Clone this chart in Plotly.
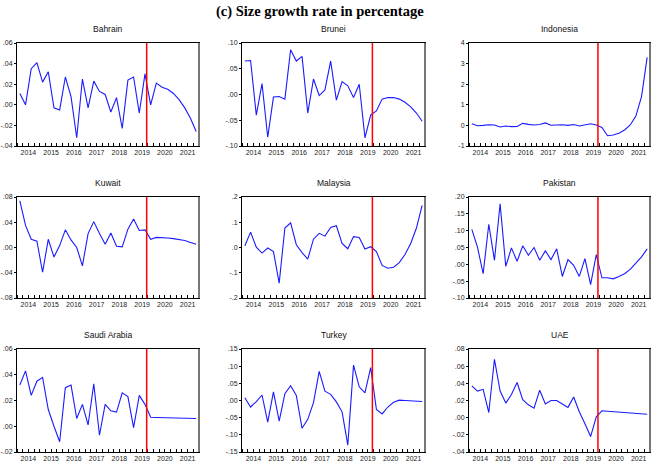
import plotly.graph_objects as go
from plotly.subplots import make_subplots

# ---------------- data ----------------
years = [2014, 2015, 2016, 2017, 2018, 2019, 2020, 2021]
quarter_labels = [f"{y}Q{q}" for y in years for q in (1, 2, 3, 4)]
forecast_start = 2019.7  # vertical red marker

countries = ["Bahrain", "Brunei", "Indonesia",
             "Kuwait", "Malaysia", "Pakistan",
             "Saudi Arabia", "Turkey", "UAE"]

bahrain = [0.011, 0.000, 0.035, 0.041, 0.022, 0.032, -0.003, -0.005,
           0.027, 0.008, -0.032, 0.025, -0.003, 0.023, 0.013, 0.010,
           -0.007, 0.007, -0.023, 0.024, 0.027, -0.008, 0.030, 0.000,
           0.021, 0.017, 0.015, 0.011, 0.005, -0.003, -0.013, -0.026]
brunei = [0.065, 0.066, -0.040, 0.021, -0.083, -0.005, -0.004, -0.009,
          0.087, 0.065, 0.074, -0.036, 0.030, -0.002, 0.009, 0.065,
          -0.011, 0.025, 0.017, -0.006, 0.020, -0.084, -0.040, -0.032,
          -0.009, -0.006, -0.006, -0.009, -0.015, -0.024, -0.036, -0.052]
indonesia = [0.08, -0.02, 0.00, 0.03, 0.02, -0.08, -0.03, -0.06,
             -0.05, 0.10, 0.05, 0.02, 0.04, 0.12, 0.01, 0.02,
             0.03, 0.00, 0.04, -0.03, 0.02, 0.08, 0.02, -0.10,
             -0.50, -0.47, -0.38, -0.22, 0.02, 0.45, 1.40, 3.30]
kuwait = [0.074, 0.035, 0.013, 0.010, -0.039, 0.013, -0.015, 0.003,
          0.028, 0.012, 0.000, -0.029, 0.022, 0.041, 0.022, 0.005,
          0.023, 0.002, 0.001, 0.029, 0.045, 0.027, 0.028, 0.013,
          0.016, 0.016, 0.015, 0.014, 0.013, 0.011, 0.008, 0.005]
malaysia = [0.007, 0.061, 0.001, -0.022, -0.002, -0.016, -0.141, 0.077,
            0.098, 0.011, -0.020, -0.046, 0.033, 0.056, 0.045, 0.079,
            0.086, 0.016, -0.005, 0.043, 0.040, -0.006, 0.003, -0.016,
            -0.071, -0.082, -0.078, -0.060, -0.028, 0.016, 0.077, 0.167]
pakistan = [0.104, 0.051, -0.028, 0.119, 0.012, 0.180, -0.006, 0.049,
            0.009, 0.055, 0.027, 0.050, 0.012, 0.040, 0.014, 0.046,
            -0.036, 0.014, -0.003, -0.036, 0.017, -0.060, 0.029, -0.040,
            -0.040, -0.043, -0.036, -0.028, -0.015, 0.002, 0.022, 0.046]
saudi = [0.032, 0.043, 0.024, 0.035, 0.038, 0.013, 0.000, -0.012,
         0.030, 0.032, 0.006, 0.017, 0.001, 0.033, -0.007, 0.017,
         0.012, 0.011, 0.026, 0.023, -0.001, 0.024, 0.017, 0.007,
         0.0068, 0.0066, 0.0064, 0.0062, 0.0061, 0.0060, 0.0060, 0.0060]
turkey = [0.008, -0.019, -0.003, 0.016, -0.063, 0.025, -0.060, 0.020,
          0.043, 0.015, -0.081, -0.055, -0.006, 0.085, 0.027, 0.018,
          -0.004, -0.033, -0.130, 0.103, 0.040, 0.022, 0.096, -0.026,
          -0.039, -0.019, -0.005, 0.001, 0.000, -0.001, -0.002, -0.003]
uae = [0.037, 0.031, 0.033, 0.006, 0.068, 0.031, 0.017, 0.027,
       0.041, 0.021, 0.015, 0.011, 0.032, 0.016, 0.020, 0.020,
       0.016, 0.012, 0.024, 0.007, -0.007, -0.022, 0.001, 0.008,
       0.0075, 0.0070, 0.0065, 0.0060, 0.0055, 0.0050, 0.0045, 0.0040]

series = [bahrain, brunei, indonesia, kuwait, malaysia, pakistan, saudi, turkey, uae]

y_tickvals = [
    [-0.04, -0.02, 0.0, 0.02, 0.04, 0.06],
    [-0.10, -0.05, 0.0, 0.05, 0.10],
    [-1, 0, 1, 2, 3, 4],
    [-0.08, -0.04, 0.0, 0.04, 0.08],
    [-0.2, -0.1, 0.0, 0.1, 0.2],
    [-0.10, -0.05, 0.0, 0.05, 0.10, 0.15, 0.20],
    [-0.02, 0.0, 0.02, 0.04, 0.06],
    [-0.15, -0.10, -0.05, 0.0, 0.05, 0.10, 0.15],
    [-0.04, -0.02, 0.0, 0.02, 0.04, 0.06, 0.08],
]
y_ticktext = [
    ["-.04", "-.02", ".00", ".02", ".04", ".06"],
    ["-.10", "-.05", ".00", ".05", ".10"],
    ["-1", "0", "1", "2", "3", "4"],
    ["-.08", "-.04", ".00", ".04", ".08"],
    ["-.2", "-.1", ".0", ".1", ".2"],
    ["-.10", "-.05", ".00", ".05", ".10", ".15", ".20"],
    ["-.02", ".00", ".02", ".04", ".06"],
    ["-.15", "-.10", "-.05", ".00", ".05", ".10", ".15"],
    ["-.04", "-.02", ".00", ".02", ".04", ".06", ".08"],
]

# ---------------- layout helpers ----------------
W, H = 652, 465
col_px = [(17, 199), (242, 425), (469, 650)]
row_px = [(43, 146), (197, 298), (349, 452)]

# x position of each quarter (centre of its period, in years)
qx = [int(q[:4]) + (int(q[-1]) - 1) * 0.25 + 0.125 for q in quarter_labels]

fig = make_subplots(rows=3, cols=3)

tick_font = dict(family="Liberation Sans, Arial, sans-serif", size=7, color="#222")

for k, (name, vals) in enumerate(zip(countries, series)):
    r, c = divmod(k, 3)
    fig.add_trace(go.Scatter(x=qx, y=vals, mode="lines",
                             line=dict(color="#1a1aff", width=1.1),
                             hoverinfo="skip", showlegend=False),
                  row=r + 1, col=c + 1)
    n = k + 1
    xs = "" if n == 1 else str(n)
    x0p, x1p = col_px[c]
    y0p, y1p = row_px[r]
    xdom = [x0p / W, x1p / W]
    ydom = [1 - y1p / H, 1 - y0p / H]
    tv = y_tickvals[k]
    fig.layout["xaxis" + xs].update(
        domain=xdom, range=[2014, 2022],
        tickvals=[y + 0.5 for y in years], ticktext=[str(y) for y in years],
        ticks="", showgrid=False, zeroline=False,
        showline=True, linecolor="black", linewidth=1, mirror=True,
        minor=dict(ticks="inside", tick0=2014, dtick=0.25, ticklen=3,
                   tickcolor="black", tickwidth=1, showgrid=False),
        tickfont=tick_font, automargin=False,
    )
    fig.layout["yaxis" + xs].update(
        domain=ydom, range=[tv[0], tv[-1]],
        tickvals=tv, ticktext=y_ticktext[k],
        ticks="outside", ticklen=2, tickcolor="black",
        showgrid=False, zeroline=False,
        showline=True, linecolor="black", linewidth=1, mirror=True,
        tickfont=tick_font, automargin=False,
    )
    # frame shadow on the right edge
    fig.add_shape(type="line", xref="x" + xs + " domain", yref="y" + xs + " domain",
                  x0=1, x1=1, y0=0, y1=1, line=dict(color="#777", width=2))
    # forecast marker
    fig.add_shape(type="line", xref="x" + xs, yref="y" + xs + " domain",
                  x0=forecast_start, x1=forecast_start, y0=0.0, y1=1.0,
                  line=dict(color="red", width=1.5))
    # subplot title
    fig.add_annotation(text=name, xref="paper", yref="paper",
                       x=(xdom[0] + xdom[1]) / 2, y=ydom[1],
                       xanchor="center", yanchor="middle", yshift=14,
                       showarrow=False,
                       font=dict(family="Liberation Sans, Arial, sans-serif",
                                 size=8.5, color="#111"))

fig.add_annotation(text="<b>(c) Size growth rate in percentage</b>",
                   xref="paper", yref="paper", x=320 / W, y=1 - 12 / H,
                   xanchor="center", yanchor="middle", showarrow=False,
                   font=dict(family="Liberation Serif, Times New Roman, serif",
                             size=14.5, color="black"))

fig.update_layout(width=W, height=H, margin=dict(l=0, r=0, t=0, b=0),
                  plot_bgcolor="white", paper_bgcolor="white",
                  showlegend=False)

fig.write_html("out.html",
               config={"displayModeBar": False, "staticPlot": True},
               post_script="document.body.style.margin='0';"
                           "document.body.style.overflow='hidden';")
